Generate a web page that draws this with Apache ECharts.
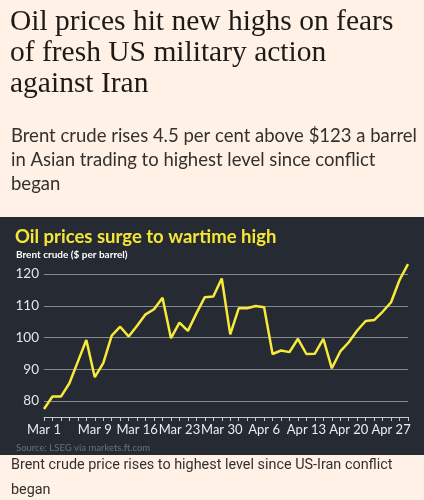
<!DOCTYPE html>
<html>
<head>
<meta charset="utf-8">
<script src="https://cdn.jsdelivr.net/npm/echarts@6/dist/echarts.min.js"></script>
<style>
  html, body { margin: 0; padding: 0; background: #fff1e5; }
  #chart { width: 424px; height: 500px; }
</style>
</head>
<body>
<div id="chart"></div>
<script>
// trading days shown on the x axis
var dates = [
    'Mar 1', 'Mar 2', 'Mar 3', 'Mar 4', 'Mar 5', 'Mar 6',
    'Mar 9', 'Mar 10', 'Mar 11', 'Mar 12', 'Mar 13',
    'Mar 16', 'Mar 17', 'Mar 18', 'Mar 19', 'Mar 20',
    'Mar 23', 'Mar 24', 'Mar 25', 'Mar 26', 'Mar 27',
    'Mar 30', 'Mar 31', 'Apr 1', 'Apr 2', 'Apr 3',
    'Apr 6', 'Apr 7', 'Apr 8', 'Apr 9', 'Apr 10',
    'Apr 13', 'Apr 14', 'Apr 15', 'Apr 16', 'Apr 17',
    'Apr 20', 'Apr 21', 'Apr 22', 'Apr 23', 'Apr 24',
    'Apr 27', 'Apr 28', 'Apr 29'
];

// Brent crude, $ per barrel
var brent = [
    77.5, 81.4, 81.4, 85.6, 92.4, 99.2,
    87.5, 91.9, 100.6, 103.4, 100.3,
    103.7, 107.3, 108.9, 112.5, 99.8,
    104.7, 102.1, 107.6, 112.7, 112.9,
    118.6, 101.0, 109.2, 109.2, 109.9,
    109.5, 94.8, 95.9, 95.4, 99.6,
    94.8, 94.9, 99.6, 90.3, 95.6,
    98.5, 102.2, 105.2, 105.5, 108.1,
    111.1, 118.1, 123.1
];

// labelled dates on the x axis
var xLabels = ['Mar 1', 'Mar 9', 'Mar 16', 'Mar 23', 'Mar 30', 'Apr 6', 'Apr 13', 'Apr 20', 'Apr 27'];

var yTicks = { min: 80, max: 120, step: 10 };

var headline = 'Oil prices hit new highs on fears\nof fresh US military action\nagainst Iran';
var standfirst = 'Brent crude rises 4.5 per cent above $123 a barrel\nin Asian trading to highest level since conflict\nbegan';
var chartTitle = 'Oil prices surge to wartime high';
var chartSub = 'Brent crude ($ per barrel)';
var source = 'Source: LSEG via markets.ft.com';
var caption = 'Brent crude price rises to highest level since US-Iran conflict\nbegan';

var chart = echarts.init(document.getElementById('chart'));

var option = {
    animation: false,
    backgroundColor: '#fff1e5',
    graphic: [
        {
            type: 'rect',
            z: -10,
            shape: { x: 0, y: 217, width: 424, height: 238 },
            style: { fill: '#262a33' }
        }
    ],
    title: [
        {
            text: headline,
            left: 10,
            top: 6.5,
            padding: 0,
            textStyle: {
                fontFamily: 'Liberation Serif',
                fontWeight: 'normal',
                fontSize: 29.5,
                lineHeight: 31,
                color: '#1d1a18'
            }
        },
        {
            text: standfirst,
            left: 11,
            top: 123.5,
            padding: 0,
            textStyle: {
                fontFamily: 'Lato',
                fontWeight: 'normal',
                fontSize: 18.5,
                lineHeight: 24.2,
                color: '#33302e'
            }
        },
        {
            text: chartTitle,
            left: 15,
            top: 228,
            padding: 0,
            textStyle: {
                fontFamily: 'Lato',
                fontWeight: 'bold',
                fontSize: 18.5,
                color: '#f5e634'
            }
        },
        {
            text: chartSub,
            left: 16,
            top: 249.5,
            padding: 0,
            textStyle: {
                fontFamily: 'Lato',
                fontWeight: 'bold',
                fontSize: 10,
                color: '#ffffff'
            }
        },
        {
            text: source,
            left: 16,
            top: 443,
            padding: 0,
            textStyle: {
                fontFamily: 'Lato',
                fontWeight: 'normal',
                fontSize: 9.5,
                color: '#6b717b'
            }
        },
        {
            text: caption,
            left: 11,
            top: 453.5,
            padding: 0,
            textStyle: {
                fontFamily: 'Roboto',
                fontWeight: 'normal',
                fontSize: 14.4,
                lineHeight: 24.3,
                color: '#33302e'
            }
        }
    ],
    grid: {
        left: 44,
        right: 16,
        top: 274,
        height: 127,
        containLabel: false
    },
    xAxis: {
        type: 'category',
        boundaryGap: false,
        data: dates,
        offset: 16,
        axisLine: { lineStyle: { color: '#c9cacc', width: 1 } },
        axisTick: { show: true, interval: 0, length: 4, lineStyle: { color: '#c9cacc' } },
        axisLabel: {
            interval: function (i, v) { return xLabels.indexOf(v) > -1; },
            color: '#ececec',
            fontFamily: 'Lato',
            fontSize: 13,
            margin: 6
        },
        splitLine: { show: false }
    },
    yAxis: {
        type: 'value',
        min: yTicks.min,
        max: yTicks.max,
        interval: yTicks.step,
        axisLine: { show: false },
        axisTick: { show: false },
        axisLabel: {
            color: '#e6e6e6',
            fontFamily: 'Lato',
            fontSize: 13.5,
            margin: 5
        },
        splitLine: { lineStyle: { color: '#858992', width: 1 } }
    },
    series: [
        {
            name: 'Brent crude',
            type: 'line',
            data: brent,
            symbol: 'none',
            clip: false,
            lineStyle: { color: '#f7ea3a', width: 2.5 }
        }
    ]
};

chart.setOption(option);
</script>
</body>
</html>
